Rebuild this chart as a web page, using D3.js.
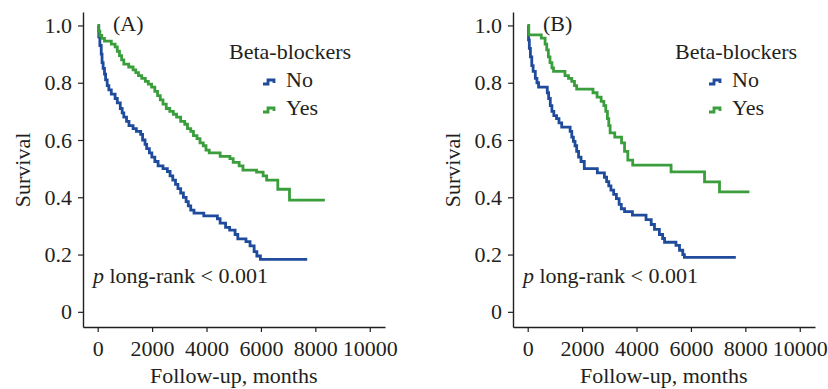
<!DOCTYPE html>
<html>
<head>
<meta charset="utf-8">
<script src="https://cdn.jsdelivr.net/npm/d3@7"></script>
<style>
  html, body { margin: 0; padding: 0; background: #fff; }
  svg text { font-family: "Liberation Serif", "Times New Roman", serif; fill: #231f20; }
</style>
</head>
<body>
<svg id="chart" width="828" height="389"></svg>
<script>
// tick values
const xTicks = [0, 2000, 4000, 6000, 8000, 10000];
const yTicks = [0, 0.2, 0.4, 0.6, 0.8, 1.0];
const yTickLabels = ['0', '0.2', '0.4', '0.6', '0.8', '1.0'];
const groups = ['No', 'Yes'];
const panelLabels = ['(A)', '(B)'];

// Kaplan-Meier steps: [follow-up, survival], last point = end of follow-up
const aNo = [
  [0, 1.0], [40, 0.96], [80, 0.93], [130, 0.90], [160, 0.87], [200, 0.85], [250, 0.83],
  [290, 0.81], [350, 0.79], [410, 0.775], [500, 0.76], [640, 0.745], [720, 0.73],
  [830, 0.71], [900, 0.695], [960, 0.68], [1060, 0.665], [1150, 0.65], [1300, 0.64],
  [1420, 0.63], [1580, 0.62], [1650, 0.60], [1740, 0.585], [1800, 0.57], [1900, 0.555],
  [1990, 0.54], [2100, 0.525], [2220, 0.51], [2400, 0.50], [2560, 0.49], [2660, 0.475],
  [2760, 0.46], [2860, 0.445], [2950, 0.43], [3050, 0.415], [3150, 0.40], [3250, 0.385],
  [3330, 0.37], [3420, 0.355], [3540, 0.345], [3900, 0.335], [4400, 0.325], [4500, 0.31],
  [4700, 0.295], [4850, 0.285], [5050, 0.27], [5150, 0.255], [5450, 0.245], [5600, 0.23],
  [5750, 0.21], [5850, 0.195], [5980, 0.183], [7700, 0.183]
];
const aYes = [
  [0, 1.0], [30, 0.98], [80, 0.965], [150, 0.955], [250, 0.945], [500, 0.935], [640, 0.925],
  [720, 0.91], [800, 0.895], [880, 0.88], [960, 0.865], [1140, 0.855], [1300, 0.845],
  [1400, 0.835], [1500, 0.825], [1620, 0.815], [1750, 0.805], [1860, 0.795], [1980, 0.785],
  [2100, 0.77], [2200, 0.755], [2300, 0.74], [2400, 0.725], [2520, 0.71], [2650, 0.70],
  [2780, 0.69], [2900, 0.68], [3050, 0.665], [3200, 0.655], [3300, 0.64], [3420, 0.63],
  [3520, 0.615], [3650, 0.605], [3760, 0.59], [3880, 0.58], [3980, 0.565], [4100, 0.555],
  [4500, 0.543], [4860, 0.535], [4980, 0.522], [5200, 0.51], [5340, 0.495], [5840, 0.488],
  [6080, 0.475], [6210, 0.46], [6620, 0.428], [7050, 0.39], [8350, 0.39]
];
const bNo = [
  [0, 1.0], [30, 0.95], [60, 0.92], [100, 0.89], [150, 0.86], [200, 0.84], [280, 0.815],
  [340, 0.80], [400, 0.785], [720, 0.765], [770, 0.745], [830, 0.72], [890, 0.70],
  [960, 0.685], [1060, 0.675], [1150, 0.66], [1250, 0.645], [1560, 0.63], [1620, 0.61],
  [1680, 0.595], [1740, 0.58], [1800, 0.56], [1870, 0.54], [1960, 0.525], [2080, 0.50],
  [2560, 0.485], [2820, 0.47], [2900, 0.455], [2980, 0.44], [3060, 0.425], [3160, 0.41],
  [3260, 0.395], [3360, 0.375], [3440, 0.36], [3560, 0.35], [3850, 0.338], [4350, 0.322],
  [4540, 0.305], [4660, 0.288], [4840, 0.27], [4960, 0.256], [5030, 0.243], [5450, 0.232],
  [5580, 0.215], [5700, 0.2], [5760, 0.19], [7650, 0.19]
];
const bYes = [
  [0, 1.0], [40, 0.967], [500, 0.956], [640, 0.935], [700, 0.915], [760, 0.89], [820, 0.87],
  [890, 0.852], [950, 0.84], [1370, 0.825], [1500, 0.815], [1620, 0.805], [1720, 0.79],
  [1800, 0.778], [2400, 0.765], [2550, 0.75], [2700, 0.735], [2800, 0.72], [2870, 0.70],
  [2930, 0.675], [2980, 0.65], [3030, 0.625], [3200, 0.61], [3450, 0.59], [3560, 0.56],
  [3680, 0.53], [3860, 0.512], [5270, 0.489], [6500, 0.454], [7050, 0.419], [8150, 0.419]
];

const panels = [
  { label: panelLabels[0], series: [aNo, aYes], dx: 0, legendDx: 0 },
  { label: panelLabels[1], series: [bNo, bYes], dx: 430, legendDx: 16 },
];
const colors = ['#1f4b9c', '#3a9e3c'];

const svg = d3.select('#chart');
const x = d3.scaleLinear().domain([-540, 10560]).range([83, 385]);
const y = d3.scaleLinear().domain([-0.053, 1.047]).range([327, 12]);

const line = d3.line()
  .x(d => x(d[0]))
  .y(d => y(d[1]))
  .curve(d3.curveStepAfter);

panels.forEach(p => {
  const g = svg.append('g').attr('transform', `translate(${p.dx},0)`);

  const yAxis = g.append('g')
    .attr('transform', `translate(${x.range()[0]},0)`)
    .call(d3.axisLeft(y).tickValues(yTicks)
      .tickFormat((d, i) => yTickLabels[i])
      .tickSize(5).tickSizeOuter(0).tickPadding(6));

  const xAxis = g.append('g')
    .attr('transform', `translate(0,${y.range()[0]})`)
    .call(d3.axisBottom(x).tickValues(xTicks)
      .tickFormat(d3.format('d'))
      .tickSize(5).tickSizeOuter(0).tickPadding(8));

  [yAxis, xAxis].forEach(a => {
    a.select('.domain').attr('stroke', '#231f20').attr('stroke-width', 1.4);
    a.selectAll('.tick line').attr('stroke', '#231f20').attr('stroke-width', 1.2);
    a.selectAll('.tick text')
      .style('font-family', '"Liberation Serif", serif')
      .style('font-size', '22px')
      .attr('fill', '#231f20');
  });

  p.series.forEach((s, i) => {
    g.append('path')
      .datum(s)
      .attr('d', line)
      .attr('fill', 'none')
      .attr('stroke', colors[i])
      .attr('stroke-width', 2.8)
      .attr('stroke-linejoin', 'miter');
  });

  g.append('text').attr('x', 113).attr('y', 31)
    .style('font-size', '22px').text(p.label);

  const lg = g.append('g').attr('transform', `translate(${p.legendDx},0)`);
  lg.append('text').attr('x', 229).attr('y', 59)
    .style('font-size', '22px').text('Beta-blockers');

  groups.forEach((name, i) => {
    const ly = 82 + i * 28;
    lg.append('path')
      .attr('d', `M263,${ly + 2}h5v-4h6v3`)
      .attr('fill', 'none')
      .attr('stroke', colors[i])
      .attr('stroke-width', 2.8);
    lg.append('text').attr('x', 286).attr('y', ly + 5)
      .style('font-size', '22px').text(name);
  });

  const pt = g.append('text').attr('x', 93).attr('y', 283).style('font-size', '22px');
  pt.append('tspan').style('font-style', 'italic').text('p');
  pt.append('tspan').text(' long-rank < 0.001');

  g.append('text')
    .attr('transform', `translate(30,170) rotate(-90)`)
    .attr('text-anchor', 'middle')
    .style('font-size', '22px')
    .text('Survival');

  g.append('text')
    .attr('x', (x(0) + x(10000)) / 2).attr('y', 383)
    .attr('text-anchor', 'middle')
    .style('font-size', '22px')
    .text('Follow-up, months');
});
</script>
</body>
</html>
